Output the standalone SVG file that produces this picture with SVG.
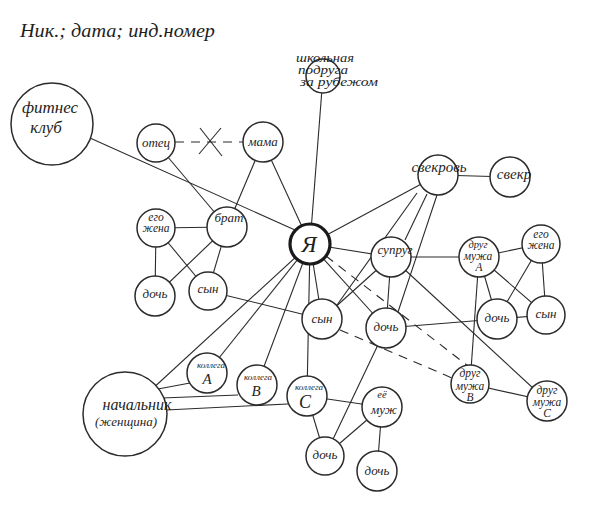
<svg xmlns="http://www.w3.org/2000/svg" width="600" height="506" viewBox="0 0 600 506">
<style>
.bg{fill:#ffffff}
.e{stroke:#2b2b2b;stroke-width:1.1;fill:none}
.d{stroke:#2b2b2b;stroke-width:1.1;fill:none;stroke-dasharray:9 7}
.n{fill:#ffffff;stroke:#2b2b2b;stroke-width:1.5}
.me{fill:#ffffff;stroke:#1a1a1a;stroke-width:3.2}
text{font-family:"Liberation Serif","DejaVu Serif",serif;font-style:italic;fill:#1e1e1e;text-anchor:middle}
.s9{font-size:9px}
.s10{font-size:10.5px}
.s11{font-size:11.5px}
.s13{font-size:13px}
.s15{font-size:15px}
.s17{font-size:17px}
.ls{font-size:11.5px;text-anchor:start}
</style>
<rect class="bg" x="0" y="0" width="600" height="506"/>
<text x="20" y="37" textLength="195" lengthAdjust="spacingAndGlyphs" style="font-size:18px;text-anchor:start">Ник.; дата; инд.номер</text>
<g id="connectors">
<line class="e" x1="323" y1="76" x2="310" y2="244"/>
<line class="e" x1="90" y1="138" x2="295" y2="230"/>
<line class="d" x1="175" y1="142" x2="243" y2="142"/>
<line class="e" x1="200" y1="128" x2="222" y2="156"/>
<line class="e" x1="221" y1="128" x2="199" y2="154"/>
<line class="e" x1="156" y1="143" x2="227" y2="227"/>
<line class="e" x1="263" y1="142" x2="227" y2="227"/>
<line class="e" x1="263" y1="142" x2="310" y2="244"/>
<line class="e" x1="227" y1="227" x2="156" y2="228"/>
<line class="e" x1="227" y1="227" x2="155" y2="296"/>
<line class="e" x1="227" y1="227" x2="208" y2="291"/>
<line class="e" x1="156" y1="228" x2="155" y2="296"/>
<line class="e" x1="156" y1="228" x2="208" y2="291"/>
<line class="e" x1="208" y1="291" x2="322" y2="319"/>
<line class="e" x1="310" y1="244" x2="438" y2="175"/>
<line class="e" x1="310" y1="244" x2="391" y2="257"/>
<line class="e" x1="310" y1="244" x2="322" y2="319"/>
<line class="e" x1="310" y1="244" x2="386" y2="328"/>
<line class="e" x1="310" y1="244" x2="125" y2="414"/>
<line class="e" x1="310" y1="244" x2="207" y2="373"/>
<line class="e" x1="310" y1="244" x2="257" y2="385"/>
<line class="e" x1="310" y1="244" x2="307" y2="396"/>
<line class="d" x1="326" y1="256" x2="468" y2="366"/>
<line class="d" x1="340" y1="330" x2="452" y2="378"/>
<line class="e" x1="438" y1="175" x2="510" y2="177"/>
<line class="e" x1="417" y1="193" x2="337" y2="305"/>
<line class="e" x1="427" y1="194" x2="405" y2="240"/>
<line class="e" x1="437" y1="195" x2="398" y2="312"/>
<line class="e" x1="391" y1="257" x2="322" y2="319"/>
<line class="e" x1="391" y1="257" x2="386" y2="328"/>
<line class="e" x1="391" y1="257" x2="479" y2="257"/>
<line class="e" x1="391" y1="257" x2="547" y2="401"/>
<line class="e" x1="479" y1="257" x2="541" y2="244"/>
<line class="e" x1="479" y1="257" x2="497" y2="319"/>
<line class="e" x1="479" y1="257" x2="546" y2="315"/>
<line class="e" x1="479" y1="257" x2="470" y2="384"/>
<line class="e" x1="541" y1="244" x2="497" y2="319"/>
<line class="e" x1="541" y1="244" x2="546" y2="315"/>
<line class="e" x1="497" y1="319" x2="546" y2="315"/>
<line class="e" x1="386" y1="328" x2="497" y2="319"/>
<line class="e" x1="470" y1="384" x2="547" y2="401"/>
<line class="e" x1="386" y1="328" x2="325" y2="456"/>
<line class="e" x1="307" y1="396" x2="382" y2="407"/>
<line class="e" x1="307" y1="396" x2="325" y2="456"/>
<line class="e" x1="382" y1="407" x2="325" y2="456"/>
<line class="e" x1="382" y1="407" x2="377" y2="471"/>
<line class="e" x1="158" y1="389" x2="190" y2="383"/>
<line class="e" x1="162" y1="398" x2="238" y2="395"/>
<line class="e" x1="166" y1="410" x2="288" y2="404"/>
</g>
<g id="n-podruga"><circle class="n" cx="323" cy="76" r="17"/><text class="ls" x="296" y="62" textLength="58" lengthAdjust="spacingAndGlyphs">школьная</text><text class="ls" x="298" y="74" textLength="50" lengthAdjust="spacingAndGlyphs">подруга</text><text class="ls" x="300" y="86" textLength="78" lengthAdjust="spacingAndGlyphs">за рубежом</text></g>
<g id="n-fitnes"><circle class="n" cx="52" cy="124" r="41"/><text class="s17" x="50" y="113">фитнес</text><text class="s17" x="46" y="133">клуб</text></g>
<g id="n-otec"><circle class="n" cx="156" cy="143" r="19"/><text class="s13" x="156" y="147">отец</text></g>
<g id="n-mama"><circle class="n" cx="263" cy="142" r="20"/><text class="s13" x="263" y="146">мама</text></g>
<g id="n-brat"><circle class="n" cx="227" cy="227" r="20"/><text class="s13" x="229" y="222">брат</text></g>
<g id="n-zhena-l"><circle class="n" cx="156" cy="228" r="19"/><text class="s11" x="156" y="221">его</text><text class="s11" x="156" y="232">жена</text></g>
<g id="n-doch-l"><circle class="n" cx="155" cy="296" r="20"/><text class="s13" x="155" y="298">дочь</text></g>
<g id="n-syn-l"><circle class="n" cx="208" cy="291" r="19"/><text class="s13" x="208" y="293">сын</text></g>
<g id="n-ya"><circle class="me" cx="310" cy="244" r="20"/><text x="309" y="252" style="font-size:23px">Я</text></g>
<g id="n-syn-m"><circle class="n" cx="322" cy="319" r="20"/><text class="s13" x="322" y="323">сын</text></g>
<g id="n-doch-m"><circle class="n" cx="386" cy="328" r="20"/><text class="s13" x="386" y="331">дочь</text></g>
<g id="n-suprug"><circle class="n" cx="391" cy="257" r="20"/><text class="s13" x="395" y="254">супруг</text></g>
<g id="n-svekrov"><circle class="n" cx="438" cy="175" r="20"/><text class="s15" x="439" y="172">свекровь</text></g>
<g id="n-svekr"><circle class="n" cx="510" cy="177" r="20"/><text class="s15" x="514" y="179">свекр</text></g>
<g id="n-drug-a"><circle class="n" cx="479" cy="257" r="20"/><text class="s10" x="478" y="248">друг</text><text class="s11" x="478" y="260">мужа</text><text class="s11" x="479" y="271">А</text></g>
<g id="n-zhena-r"><circle class="n" cx="541" cy="244" r="19"/><text class="s11" x="541" y="238">его</text><text class="s11" x="541" y="249">жена</text></g>
<g id="n-doch-r"><circle class="n" cx="497" cy="319" r="20"/><text class="s13" x="497" y="322">дочь</text></g>
<g id="n-syn-r"><circle class="n" cx="546" cy="315" r="19"/><text class="s13" x="546" y="318">сын</text></g>
<g id="n-drug-b"><circle class="n" cx="470" cy="384" r="19"/><text class="s11" x="470" y="377">друг</text><text class="s11" x="470" y="390">мужа</text><text class="s11" x="470" y="401">В</text></g>
<g id="n-drug-c"><circle class="n" cx="547" cy="401" r="20"/><text class="s11" x="547" y="394">друг</text><text class="s11" x="547" y="406">мужа</text><text class="s11" x="547" y="417">С</text></g>
<g id="n-koll-a"><circle class="n" cx="207" cy="373" r="20"/><text class="s9" x="211" y="368">коллега</text><text x="207" y="384" style="font-size:15px">А</text></g>
<g id="n-koll-b"><circle class="n" cx="257" cy="385" r="20"/><text class="s9" x="258" y="380">коллега</text><text x="256" y="396" style="font-size:15px">В</text></g>
<g id="n-koll-c"><circle class="n" cx="307" cy="396" r="20"/><text class="s9" x="309" y="390">коллега</text><text x="305" y="408" style="font-size:18px">С</text></g>
<g id="n-nach"><circle class="n" cx="125" cy="414" r="42"/><text x="137" y="410" style="font-size:16px">начальник</text><text class="s13" x="126" y="426">(женщина)</text></g>
<g id="n-muzh"><circle class="n" cx="382" cy="407" r="20"/><text class="s10" x="382" y="398">её</text><text class="s13" x="384" y="414">муж</text></g>
<g id="n-doch-bl"><circle class="n" cx="325" cy="456" r="19"/><text class="s13" x="325" y="459">дочь</text></g>
<g id="n-doch-br"><circle class="n" cx="377" cy="471" r="20"/><text class="s13" x="377" y="475">дочь</text></g>
</svg>
